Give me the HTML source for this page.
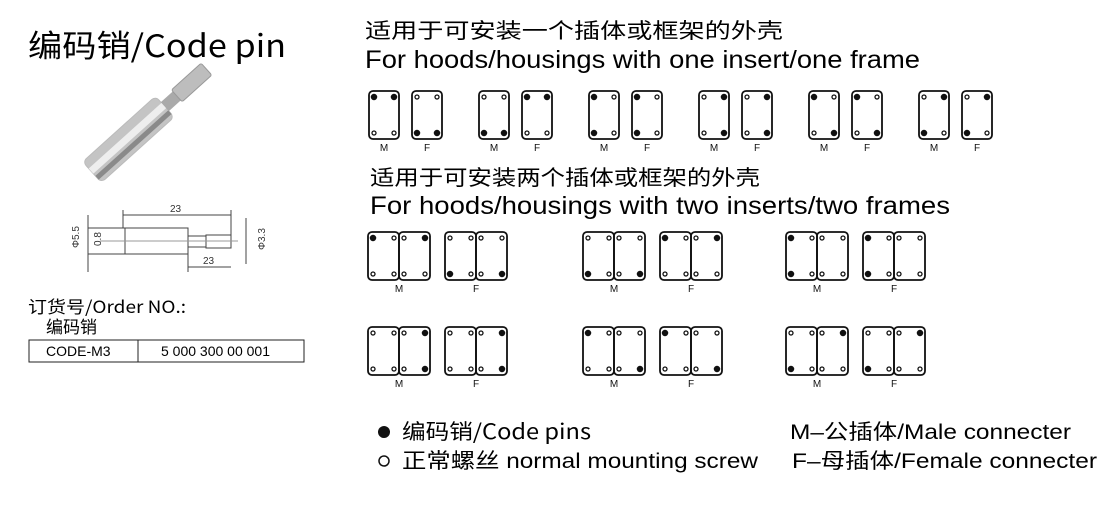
<!DOCTYPE html>
<html><head><meta charset="utf-8"><style>
body{margin:0;width:1120px;height:506px;background:#fff;overflow:hidden;font-family:"Liberation Sans","Noto Sans CJK SC",sans-serif;color:#111}
</style></head><body>
<svg id="s" width="1120" height="506" xmlns="http://www.w3.org/2000/svg" font-family="Liberation Sans, Noto Sans CJK SC, sans-serif">
<text x="28" y="57" font-size="31" textLength="258" lengthAdjust="spacingAndGlyphs" font-family="Noto Sans CJK SC, sans-serif">编码销/Code pin</text>
<text x="365" y="38" font-size="21" textLength="418" lengthAdjust="spacingAndGlyphs" font-family="Noto Sans CJK SC, sans-serif">适用于可安装一个插体或框架的外壳</text>
<text x="365" y="68" font-size="25" textLength="555" lengthAdjust="spacingAndGlyphs">For hoods/housings with one insert/one frame</text>
<text x="370" y="185" font-size="21" textLength="390" lengthAdjust="spacingAndGlyphs" font-family="Noto Sans CJK SC, sans-serif">适用于可安装两个插体或框架的外壳</text>
<text x="370" y="214" font-size="25" textLength="580" lengthAdjust="spacingAndGlyphs">For hoods/housings with two inserts/two frames</text>
<!-- pin photo -->
<g transform="translate(150 120) rotate(-42)">
<rect x="-78" y="-14" width="98" height="28" rx="5" fill="#c4c4c4" stroke="#bbb"/>
<rect x="-78" y="-5" width="98" height="7" fill="#eee"/>
<rect x="-78" y="5" width="98" height="5" fill="#8a8a8a"/>
<rect x="20" y="-6" width="16" height="12" fill="#aaa"/>
<rect x="36" y="-8" width="40" height="16" rx="2" fill="#bdbdbd" stroke="#999"/>
</g>
<!-- drawing -->
<g stroke="#444" stroke-width="1" fill="none">
<rect x="125" y="228" width="63" height="26"/>
<rect x="206" y="235" width="25" height="13"/>
<line x1="188" y1="236" x2="206" y2="236"/><line x1="188" y1="247" x2="206" y2="247"/>
<line x1="100" y1="241" x2="238" y2="241" stroke="#999"/>
<line x1="123" y1="215" x2="231" y2="215"/><line x1="123" y1="210" x2="123" y2="228"/><line x1="231" y1="210" x2="231" y2="235"/>
<line x1="188" y1="267" x2="231" y2="267"/><line x1="188" y1="254" x2="188" y2="272"/>
<line x1="88" y1="215" x2="88" y2="272"/><line x1="246" y1="218" x2="246" y2="264"/>
<line x1="88" y1="228" x2="125" y2="228"/><line x1="88" y1="254" x2="125" y2="254"/>
</g>
<g font-size="10" fill="#333"><text x="170" y="212">23</text><text x="203" y="264">23</text>
<text transform="translate(79 248) rotate(-90)">Φ5.5</text><text transform="translate(101 246) rotate(-90)">0.8</text><text transform="translate(265 250) rotate(-90)">Φ3.3</text></g>
<text x="28" y="313" font-size="17" textLength="158" lengthAdjust="spacingAndGlyphs" font-family="Noto Sans CJK SC, sans-serif">订货号/Order NO.:</text>
<text x="46" y="333" font-size="17" font-family="Noto Sans CJK SC, sans-serif">编码销</text>
<rect x="29" y="340" width="275" height="22" fill="none" stroke="#222"/>
<line x1="138" y1="340" x2="138" y2="362" stroke="#222"/>
<text x="46" y="356" font-size="14">CODE-M3</text><text x="161" y="356" font-size="14">5 000 300 00 001</text>
<g id="g"></g>
<circle cx="384" cy="432" r="6" fill="#111"/>
<circle cx="384" cy="461" r="5" fill="none" stroke="#111" stroke-width="1.5"/>
<text x="402" y="439" font-size="21" textLength="189" lengthAdjust="spacingAndGlyphs" font-family="Noto Sans CJK SC, sans-serif">编码销/Code pins</text>
<text x="402" y="468" font-size="21" textLength="356" lengthAdjust="spacingAndGlyphs"><tspan font-family="Noto Sans CJK SC, sans-serif">正常螺丝</tspan> normal mounting screw</text>
<text x="790" y="439" font-size="21" textLength="281" lengthAdjust="spacingAndGlyphs">M–<tspan font-family="Noto Sans CJK SC, sans-serif">公插体</tspan>/Male connecter</text>
<text x="792" y="468" font-size="21" textLength="305" lengthAdjust="spacingAndGlyphs">F–<tspan font-family="Noto Sans CJK SC, sans-serif">母插体</tspan>/Female connecter</text>
</svg>
<script>
var g=document.getElementById('g'),h='';
function dot(x,y,f){h+='<circle cx="'+x+'" cy="'+y+'" r="'+(f?2.6:2)+'" fill="'+(f?'#111':'#fff')+'" stroke="#111" stroke-width="1.3"/>';}
function box(x,y,w,hh,p){h+='<rect x="'+x+'" y="'+y+'" width="'+w+'" height="'+hh+'" rx="4" fill="none" stroke="#111" stroke-width="1.8"/>';
 dot(x+5,y+6,p[0]);dot(x+w-5,y+6,p[1]);dot(x+5,y+hh-6,p[2]);dot(x+w-5,y+hh-6,p[3]);}
function lab(x,y,t){h+='<text x="'+x+'" y="'+y+'" font-size="10" text-anchor="middle" fill="#111">'+t+'</text>';}
var single=[[[1,1,0,0],[0,0,1,1]],[[0,0,1,1],[1,1,0,0]],[[1,0,1,0],[1,0,1,0]],[[0,1,0,1],[0,1,0,1]],[[1,0,0,1],[1,0,0,1]],[[0,1,1,0],[0,1,1,0]]];
for(var i=0;i<6;i++){var x=369+i*110;box(x,91,30,48,single[i][0]);box(x+43,91,30,48,single[i][1]);lab(x+15,151,'M');lab(x+58,151,'F');}
var gx=[368,583,786],rows=[232,327];
var dbl=[[[[1,0,0,0],[0,1,0,0],[0,0,1,0],[0,0,0,1]],[[0,0,1,0],[0,0,0,1],[1,0,0,0],[0,1,0,0]],[[1,0,1,0],[0,0,0,0],[1,0,1,0],[0,0,0,0]]],
[[[0,0,0,0],[0,1,0,1],[0,0,0,0],[0,1,0,1]],[[1,0,0,0],[0,0,0,1],[1,0,0,0],[0,0,0,1]],[[0,0,1,0],[0,1,0,0],[0,0,1,0],[0,1,0,0]]]];
for(var r=0;r<2;r++)for(var j=0;j<3;j++){var x=gx[j],y=rows[r],d=dbl[r][j];
 box(x,y,31,48,d[0]);box(x+31,y,31,48,d[1]);box(x+77,y,31,48,d[2]);box(x+108,y,31,48,d[3]);
 lab(x+31,y+60,'M');lab(x+108,y+60,'F');}
g.innerHTML=h;
</script>
</body></html>
